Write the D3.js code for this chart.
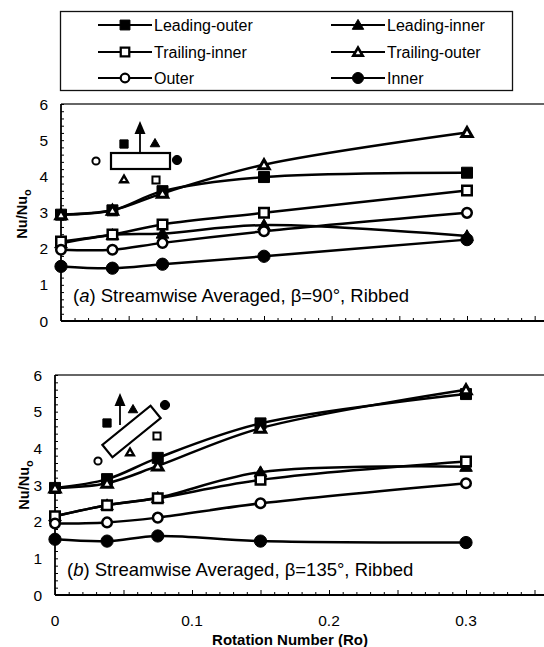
<!DOCTYPE html>
<html>
<head>
<meta charset="utf-8">
<script src="https://cdn.jsdelivr.net/npm/d3@7"></script>
<style>
  html, body { margin: 0; padding: 0; background: #fff; }
  svg { display: block; font-family: "Liberation Sans", Arial, Helvetica, sans-serif; }
</style>
</head>
<body>
<svg id="chart" width="544" height="647"></svg>
<script>
// Rotation numbers tested
const ro = [0, 0.038, 0.075, 0.15, 0.3];

// Series names in legend order
const seriesNames = ["Leading-outer", "Leading-inner", "Trailing-inner", "Trailing-outer", "Outer", "Inner"];

// (a) beta = 90 deg, streamwise averaged Nu/Nu0
const leadingOuterA  = [2.94, 3.06, 3.59, 3.98, 4.10];
const leadingInnerA  = [2.15, 2.38, 2.42, 2.65, 2.35];
const trailingInnerA = [2.20, 2.39, 2.67, 2.99, 3.61];
const trailingOuterA = [2.94, 3.06, 3.53, 4.32, 5.21];
const outerA         = [1.97, 1.97, 2.16, 2.48, 2.99];
const innerA         = [1.51, 1.46, 1.57, 1.79, 2.25];

// (b) beta = 135 deg, streamwise averaged Nu/Nu0
const leadingOuterB  = [2.92, 3.16, 3.74, 4.68, 5.48];
const leadingInnerB  = [2.15, 2.45, 2.65, 3.35, 3.50];
const trailingInnerB = [2.15, 2.45, 2.64, 3.14, 3.64];
const trailingOuterB = [2.92, 3.05, 3.52, 4.55, 5.60];
const outerB         = [1.95, 1.98, 2.11, 2.50, 3.05];
const innerB         = [1.52, 1.47, 1.61, 1.47, 1.43];

const yTicks = [0, 1, 2, 3, 4, 5, 6];
const xTicks = [0, 0.1, 0.2, 0.3];

// marker style per series: symbol type, filled or open, symbol area, outline width
const markerStyle = [
  { type: d3.symbolSquare,   filled: true,  area: 121, sw: 1   },
  { type: d3.symbolTriangle, filled: true,  area: 70,  sw: 1   },
  { type: d3.symbolSquare,   filled: false, area: 90,  sw: 2.5 },
  { type: d3.symbolTriangle, filled: false, area: 46,  sw: 3   },
  { type: d3.symbolCircle,   filled: false, area: 72,  sw: 2.5 },
  { type: d3.symbolCircle,   filled: true,  area: 118, sw: 1   }
];

const svg = d3.select("#chart");

function drawMarker(g, i, x, y, scale) {
  const s = markerStyle[i];
  const k = scale || 1;
  g.append("path")
    .attr("d", d3.symbol().type(s.type).size(s.area * k * k)())
    .attr("transform", `translate(${x},${y})` + (s.type === d3.symbolTriangle ? " translate(0,1)" : ""))
    .attr("fill", s.filled ? "#000" : "#fff")
    .attr("stroke", "#000")
    .attr("stroke-linejoin", "miter")
    .attr("stroke-width", s.filled ? s.sw : s.sw * Math.max(k, 0.8));
}

// ---- legend ----
const legend = svg.append("g");
legend.append("rect")
  .attr("x", 60.5).attr("y", 11.5).attr("width", 452).attr("height", 79)
  .attr("fill", "none").attr("stroke", "#111").attr("stroke-width", 1.3);
const legCols = [98, 331];
const legRows = [25, 52, 78];
seriesNames.forEach((name, i) => {
  const cx = legCols[i % 2], cy = legRows[Math.floor(i / 2)];
  legend.append("line")
    .attr("x1", cx).attr("x2", cx + 54).attr("y1", cy).attr("y2", cy)
    .attr("stroke", "#000").attr("stroke-width", 2.2);
  drawMarker(legend, i, cx + 27, cy, 0.9);
  legend.append("text")
    .attr("x", cx + 56).attr("y", cy + 5.5)
    .attr("font-size", 16).attr("fill", "#000")
    .text(name);
});

// ---- panel drawing ----
function drawPanel(opts) {
  const { x0, top, bottom, series, label, angle, inset, showX } = opts;
  const x = d3.scaleLinear().domain([0, 0.3]).range([x0, opts.x03]);
  const y = d3.scaleLinear().domain([0, 6]).range([bottom, top]);
  const g = svg.append("g");

  // frame (right side runs past the page edge)
  g.append("line").attr("x1", x0).attr("x2", 560).attr("y1", top).attr("y2", top)
    .attr("stroke", "#333").attr("stroke-width", 1.5);

  // y axis with inward ticks
  const yAxis = d3.axisRight(y).tickValues(d3.range(0, 6.01, 0.2)).tickSize(3).tickFormat("");
  const ya = g.append("g").attr("transform", `translate(${x0},0)`).call(yAxis);
  ya.select(".domain").attr("stroke-width", 1.8).attr("d", `M0,${top}V${bottom}`);
  ya.selectAll(".tick line").attr("stroke-width", 1);
  g.selectAll(".ylab").data(yTicks).join("text")
    .attr("x", x0 - 13).attr("y", d => y(d) + 5.5)
    .attr("text-anchor", "end").attr("font-size", 15.5).text(d => d);

  // x axis with inward ticks, minor every 0.01
  const xAxis = d3.axisTop(x).tickValues(d3.range(0, 0.4, 0.01)).tickSize(3).tickFormat("");
  const xa = g.append("g").attr("transform", `translate(0,${bottom})`).call(xAxis);
  xa.select(".domain").attr("stroke-width", 1.8).attr("d", `M${x0},0H560`);
  xa.selectAll(".tick line").attr("stroke-width", 1)
    .attr("y2", d => (Math.round(d * 100) % 5 === 0) ? -5 : -3);

  if (showX) {
    g.selectAll(".xlab").data(xTicks).join("text")
      .attr("x", d => x(d)).attr("y", bottom + 31)
      .attr("text-anchor", "middle").attr("font-size", 15.5).text(d => d);
  }

  // y axis title Nu/Nu_o
  const yt = g.append("text")
    .attr("transform", `translate(${opts.ytX},${opts.ytY}) rotate(-90)`)
    .attr("text-anchor", "middle").attr("font-size", 14.5).attr("font-weight", "bold");
  yt.append("tspan").text("Nu/Nu");
  yt.append("tspan").attr("font-size", 11).attr("dy", 4).text("o");

  // curves and markers, drawn series by series
  const line = d3.line().curve(d3.curveCatmullRom.alpha(0.5))
    .x((d, j) => x(ro[j])).y(d => y(d));
  series.forEach((vals, i) => {
    g.append("path").attr("d", line(vals))
      .attr("fill", "none").attr("stroke", "#000").attr("stroke-width", 2.5);
    vals.forEach((v, j) => drawMarker(g, i, x(ro[j]), y(v), 1));
  });

  // panel caption
  const t = g.append("text").attr("x", x0 + 12).attr("y", bottom - 19)
    .attr("font-size", 18.5);
  t.append("tspan").text("(");
  t.append("tspan").attr("font-style", "italic").text(label);
  t.append("tspan").text(`) Streamwise Averaged,  \u03B2=${angle}\u00B0, Ribbed`);

  // orientation sketch
  inset(g);
}

function sketchMarker(g, i, px, py) { drawMarker(g, i, px, py, 0.75); }

function arrow(g, xA, yFrom, yTo) {
  g.append("line").attr("x1", xA).attr("x2", xA).attr("y1", yFrom).attr("y2", yTo + 8)
    .attr("stroke", "#000").attr("stroke-width", 1.8);
  g.append("path").attr("d", `M${xA},${yTo}L${xA - 5.5},${yTo + 13}L${xA + 5.5},${yTo + 13}Z`)
    .attr("fill", "#000");
}

drawPanel({
  x0: 61, x03: 467, top: 104, bottom: 321, showX: false,
  ytX: 27, ytY: 214, label: "a", angle: 90,
  series: [leadingOuterA, leadingInnerA, trailingInnerA, trailingOuterA, outerA, innerA],
  inset: g => {
    g.append("rect").attr("x", 111).attr("y", 153).attr("width", 59).attr("height", 16)
      .attr("fill", "#fff").attr("stroke", "#000").attr("stroke-width", 2.2);
    arrow(g, 140, 153, 121);
    sketchMarker(g, 0, 124, 144);
    sketchMarker(g, 1, 155, 143);
    sketchMarker(g, 4, 96, 161);
    sketchMarker(g, 5, 177, 160);
    sketchMarker(g, 3, 124, 179);
    sketchMarker(g, 2, 156, 180);
  }
});

drawPanel({
  x0: 55, x03: 466, top: 375, bottom: 595, showX: true,
  ytX: 29, ytY: 485, label: "b", angle: 135,
  series: [leadingOuterB, leadingInnerB, trailingInnerB, trailingOuterB, outerB, innerB],
  inset: g => {
    g.append("rect").attr("x", -31).attr("y", -8).attr("width", 62).attr("height", 16)
      .attr("transform", "translate(131.5,431.5) rotate(-39)")
      .attr("fill", "#fff").attr("stroke", "#000").attr("stroke-width", 2.2);
    arrow(g, 120, 425, 393);
    sketchMarker(g, 0, 107, 423);
    sketchMarker(g, 1, 133, 409);
    sketchMarker(g, 5, 165, 405);
    sketchMarker(g, 2, 157, 436);
    sketchMarker(g, 3, 130, 452);
    sketchMarker(g, 4, 98, 461);
  }
});

// x axis title
svg.append("text").attr("x", 290).attr("y", 645)
  .attr("text-anchor", "middle").attr("font-size", 15).attr("font-weight", "bold")
  .text("Rotation Number (Ro)");
</script>
</body>
</html>
